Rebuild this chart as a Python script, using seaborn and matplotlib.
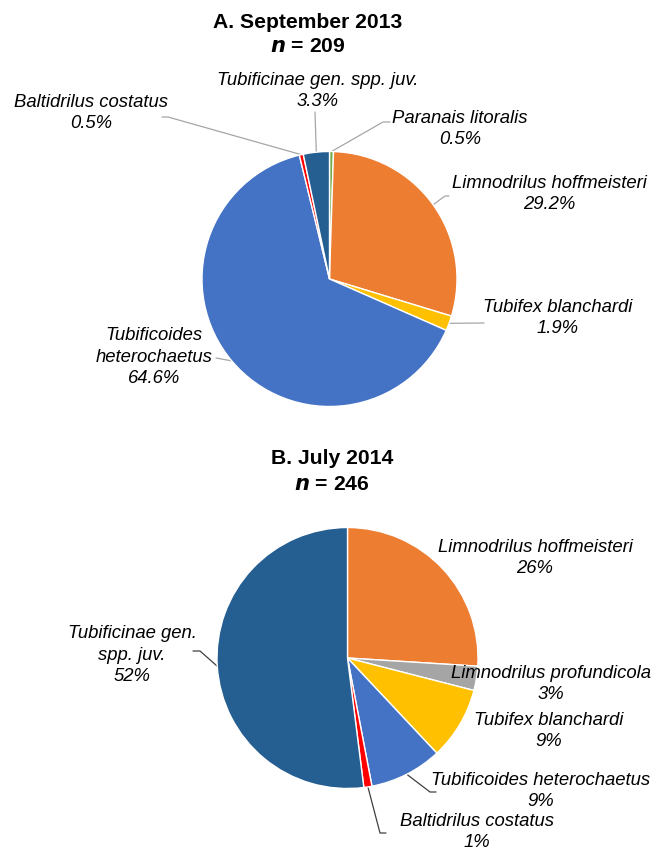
import numpy as np
import matplotlib
matplotlib.use("Agg")
import matplotlib.pyplot as plt
import seaborn as sns

# -----------------------------
# Data
# -----------------------------
species_a = ["Paranais litoralis", "Limnodrilus hoffmeisteri", "Tubifex blanchardi",
             "Tubificoides heterochaetus", "Baltidrilus costatus", "Tubificinae gen. spp. juv."]
share_a = [0.5, 29.2, 1.9, 64.6, 0.5, 3.3]
labels_a = ["Paranais litoralis\n0.5%", "Limnodrilus hoffmeisteri\n29.2%", "Tubifex blanchardi\n1.9%",
            "Tubificoides\nheterochaetus\n64.6%", "Baltidrilus costatus\n0.5%",
            "Tubificinae gen. spp. juv.\n3.3%"]

species_b = ["Limnodrilus hoffmeisteri", "Limnodrilus profundicola", "Tubifex blanchardi",
             "Tubificoides heterochaetus", "Baltidrilus costatus", "Tubificinae gen. spp. juv."]
share_b = [26, 3, 9, 9, 1, 52]
labels_b = ["Limnodrilus hoffmeisteri\n26%", "Limnodrilus profundicola\n3%", "Tubifex blanchardi\n9%",
            "Tubificoides heterochaetus\n9%", "Baltidrilus costatus\n1%",
            "Tubificinae gen.\nspp. juv.\n52%"]

colors = {
    "Paranais litoralis": "#70AD47",
    "Limnodrilus hoffmeisteri": "#ED7D31",
    "Limnodrilus profundicola": "#A5A5A5",
    "Tubifex blanchardi": "#FFC000",
    "Tubificoides heterochaetus": "#4472C4",
    "Baltidrilus costatus": "#FF0000",
    "Tubificinae gen. spp. juv.": "#255E91",
}

sns.set_theme(style="white")
plt.rcParams['font.family'] = ['Liberation Sans', 'DejaVu Sans']

W, H = 665, 852
fig = plt.figure(figsize=(W / 100, H / 100), dpi=100)
ax = fig.add_axes([0, 0, 1, 1])
ax.set_xlim(0, W)
ax.set_ylim(0, H)
ax.set_aspect("equal")
ax.axis("off")


def Y(y):
    # picture rows from the top
    return H - y


def draw_pie(vals, names, labels, cx, cy, r, text_pos, leaders, line_color):
    wedges, _ = ax.pie(vals, colors=[colors[n] for n in names], startangle=90,
                       counterclock=False, center=(cx, Y(cy)), radius=r,
                       wedgeprops=dict(edgecolor="white", linewidth=1.0))
    for i, w in enumerate(wedges):
        tx, ty = text_pos[i]
        ax.text(tx, Y(ty), labels[i], ha="center", va="center", style="italic",
                fontsize=13.3, linespacing=1.36, color="black")
        if leaders[i] is None:
            continue
        mid = np.deg2rad((w.theta1 + w.theta2) / 2)
        xs = [cx + r * np.cos(mid)] + [p[0] for p in leaders[i]]
        ys = [Y(cy) + r * np.sin(mid)] + [Y(p[1]) for p in leaders[i]]
        ax.plot(xs, ys, color=line_color, lw=0.9, zorder=0)


# -----------------------------
# A. September 2013
# -----------------------------
ax.text(307.5, Y(22), "A. September 2013", ha="center", va="center",
        fontsize=15.2, fontweight="bold", color="black")
ax.text(307.5, Y(47), r"$\bfit{n}$ = 209", ha="center", va="center",
        fontsize=15.2, fontweight="bold", color="black")
draw_pie(share_a, species_a, labels_a, 329.5, 279, 127.5,
         text_pos=[(460, 129), (549, 194), (558, 318), (154, 357), (91, 113), (318, 91)],
         leaders=[[(383, 122), (390, 122)],
                  [(445, 196), (449, 196)],
                  [(484, 323)],
                  [(216, 358)],
                  [(168, 117), (162, 117)],
                  [(315, 112)]],
         line_color="#A6A6A6")

# -----------------------------
# B. July 2014
# -----------------------------
ax.text(332, Y(459), "B. July 2014", ha="center", va="center",
        fontsize=15.2, fontweight="bold", color="black")
ax.text(332, Y(484), r"$\bfit{n}$ = 246", ha="center", va="center",
        fontsize=15.2, fontweight="bold", color="black")
draw_pie(share_b, species_b, labels_b, 347.5, 658, 130.5,
         text_pos=[(535, 558), (551, 684), (549, 731), (541, 791), (477, 832), (132, 655)],
         leaders=[None, None, None,
                  [(430, 792), (436, 792)],
                  [(380, 833), (386, 833)],
                  [(200, 651), (193, 651)]],
         line_color="#404040")

ax.set_xlim(0, W)
ax.set_ylim(0, H)
fig.savefig("out.png", dpi=100)
